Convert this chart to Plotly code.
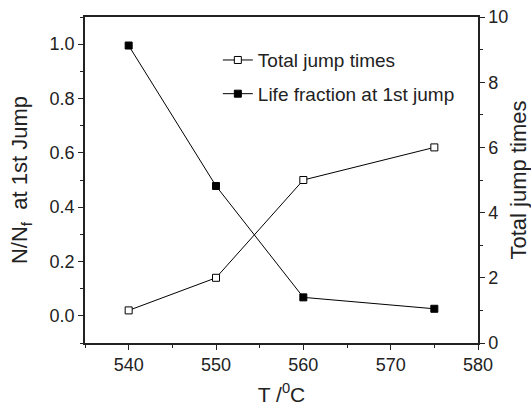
import plotly.graph_objects as go

temps = [540, 550, 560, 575]
total_jump_times = [1, 2, 5, 6]
life_fraction = [0.995, 0.478, 0.068, 0.026]

FONT = "Liberation Sans, Arial, sans-serif"

fig = go.Figure()
fig.add_trace(go.Scatter(
    x=temps, y=total_jump_times, name="Total jump times", yaxis="y2",
    mode="lines+markers", legendgroup="a",
    line=dict(color="black", width=1),
    marker=dict(symbol="square", size=7, color="white", line=dict(color="black", width=1)),
))
fig.add_trace(go.Scatter(
    x=temps, y=life_fraction, name="Life fraction at 1st jump", yaxis="y",
    mode="lines+markers", legendgroup="b",
    line=dict(color="black", width=1),
    marker=dict(symbol="square", size=7, color="black", line=dict(color="black", width=1)),
))

axis_common = dict(
    showgrid=False, zeroline=False, showline=True, linecolor="#222", linewidth=1.5,
    ticks="outside", ticklen=5, tickwidth=1, tickcolor="#222", automargin=False,
    tickfont=dict(family=FONT, size=18, color="#222"),
)

fig.update_layout(
    width=531, height=406,
    margin=dict(l=85, r=53, t=17, b=63),
    paper_bgcolor="white", plot_bgcolor="white",
    font=dict(family=FONT, color="#222"),
    showlegend=True,
    legend=dict(x=0.338, y=0.926, xanchor="left", yanchor="top",
                bgcolor="rgba(0,0,0,0)", font=dict(family=FONT, size=19, color="#222"),
                traceorder="grouped", tracegroupgap=6),
    xaxis=dict(
        range=[535, 580], dtick=10, tick0=540, mirror=True,
        minor=dict(ticks="outside", ticklen=3, dtick=5, tick0=535, tickcolor="#222"),
        title=dict(text="T /<sup>0</sup>C", font=dict(family=FONT, size=21), standoff=13),
        **axis_common,
    ),
    yaxis=dict(
        range=[-0.1, 1.1], dtick=0.2, tick0=0, tickformat=".1f",
        minor=dict(ticks="outside", ticklen=3, dtick=0.1, tick0=0, tickcolor="#222"),
        title=dict(text="N/N<sub>f</sub>  at 1st Jump", font=dict(family=FONT, size=22), standoff=16),
        **axis_common,
    ),
    yaxis2=dict(
        range=[0, 10], dtick=2, tick0=0, overlaying="y", side="right",
        minor=dict(ticks="outside", ticklen=3, dtick=1, tick0=0, tickcolor="#222"),
        title=dict(text="Total jump times", font=dict(family=FONT, size=22), standoff=15),
        **axis_common,
    ),
)

fig.write_html("out.html")
